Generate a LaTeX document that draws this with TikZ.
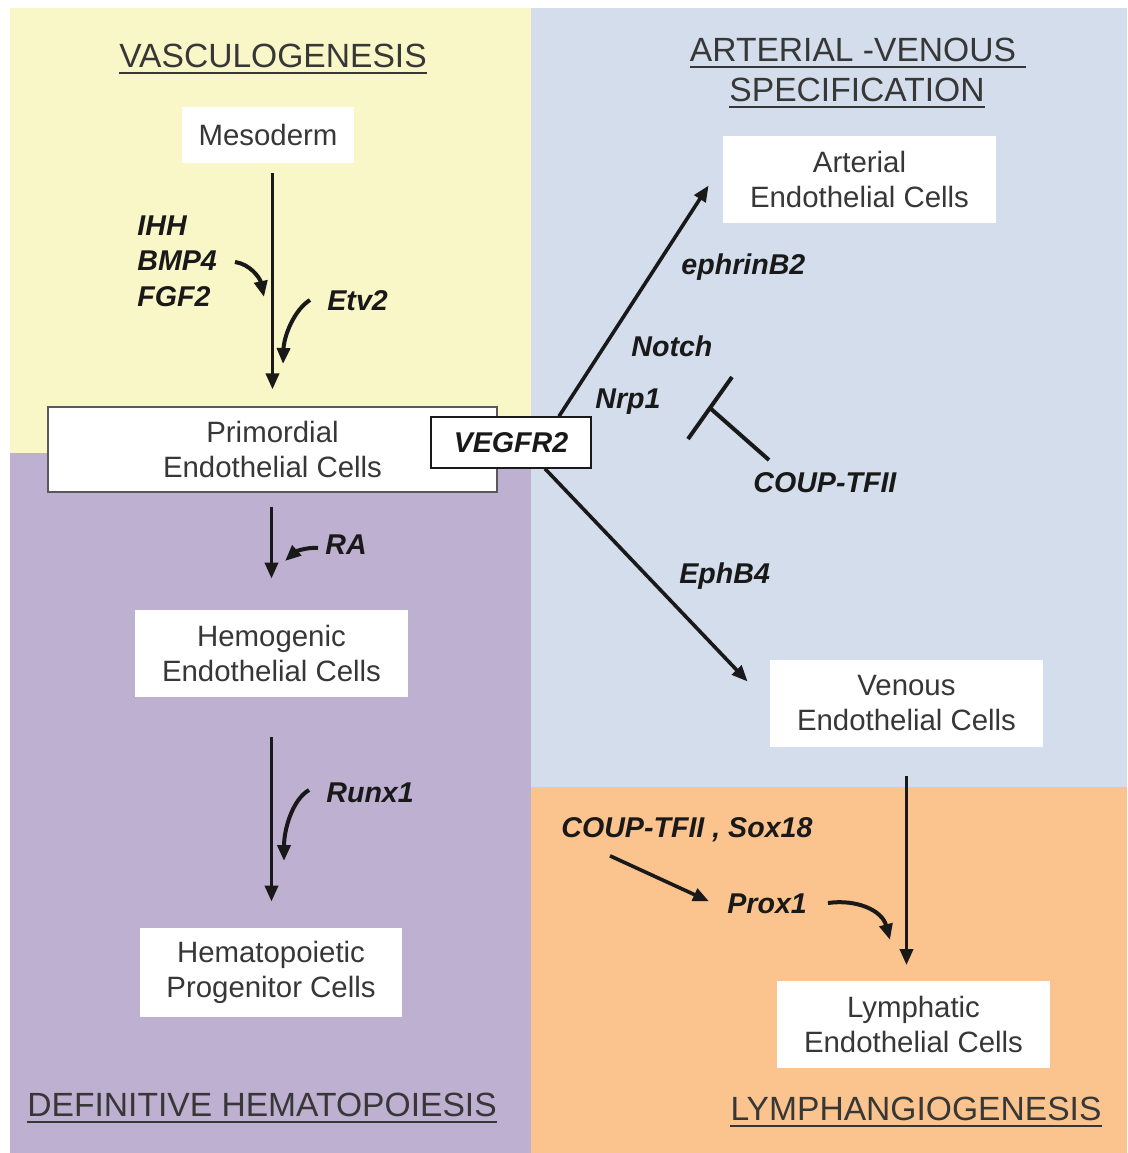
\documentclass[tikz,border=0pt]{standalone}
\usepackage{fontspec}
\setmainfont{Liberation Sans}
\usepackage{xcolor}
\usetikzlibrary{arrows.meta}

\definecolor{vascyellow}{RGB}{249,246,200}
\definecolor{avblue}{RGB}{211,221,235}
\definecolor{hemapurple}{RGB}{190,176,208}
\definecolor{lymphorange}{RGB}{251,196,142}
\definecolor{textgrey}{RGB}{55,55,55}
\definecolor{inkblack}{RGB}{25,25,25}

\newcommand{\headfont}{\fontsize{16.8}{20}\selectfont}
\newcommand{\cellfont}{\fontsize{14.7}{17.5}\selectfont}
\newcommand{\genefont}{\fontsize{14.3}{17}\selectfont\bfseries\itshape}

\begin{document}
\begin{tikzpicture}[x=0.5pt,y=-0.5pt,
    cellbox/.style={fill=white,text=textgrey,font=\cellfont,align=center,
      minimum width=136.5pt,minimum height=43.5pt},
    gene/.style={font=\genefont,text=inkblack,anchor=base west},
    heading/.style={font=\headfont,text=textgrey,anchor=base},
    arr/.style={draw=inkblack,line width=1.8pt,-{Triangle[length=8pt,width=6.5pt]}},
    curved/.style={arr,line width=2pt},
    blocker/.style={draw=inkblack,line width=2pt}]
  \tikzstyle{every node}+=[inner sep=0pt]
  \useasboundingbox (0,0) rectangle (1128,1153);
  % panels
  \fill[white] (0,0) rectangle (1128,1153);
  \fill[vascyellow] (10,8) rectangle (531,453);
  \fill[hemapurple] (10,453) rectangle (531,1153);
  \fill[avblue] (531,8) rectangle (1127,787);
  \fill[lymphorange] (531,787) rectangle (1127,1153);

  % headings
  \node[heading] (vasc) at (273,67) {VASCULOGENESIS};
  \node[heading] (av1) at (858,61) {ARTERIAL -VENOUS\kern5pt};
  \node[heading] (av2) at (857,101) {SPECIFICATION};
  \node[heading] (defh) at (262,1116) {DEFINITIVE HEMATOPOIESIS};
  \node[heading] (lymh) at (916,1120) {LYMPHANGIOGENESIS};
  \foreach \h in {vasc,av1,av2,defh,lymh}
    \draw[textgrey,line width=1.4pt] ([yshift=-3pt]\h.base west) -- ([yshift=-3pt]\h.base east);

  % cell boxes
  \node[cellbox,minimum width=86pt,minimum height=28pt] (meso) at (268,135) {Mesoderm};
  \node[cellbox,draw=gray!70!black,line width=0.6pt,minimum width=224.5pt,minimum height=42.5pt]
    (prim) at (272.5,449.5) {Primordial\\Endothelial Cells};
  \node[cellbox,draw=inkblack,line width=0.7pt,minimum width=80pt,minimum height=25.5pt,
    font=\genefont,text=inkblack] (vegf) at (511,442.5) {VEGFR2};
  \node[cellbox] (hemo) at (271.5,653.5) {Hemogenic\\Endothelial Cells};
  \node[cellbox,minimum width=131pt,minimum height=44.5pt] (hema) at (271,972.5) {Hematopoietic\\Progenitor Cells};
  \node[cellbox] (art) at (859.5,179.5) {Arterial\\Endothelial Cells};
  \node[cellbox] (ven) at (906.5,703.5) {Venous\\Endothelial Cells};
  \node[cellbox] (lym) at (913.5,1024) {Lymphatic\\Endothelial Cells};

  % factors
  \node[gene] (ihh) at (137,235) {IHH};
  \node[gene] (bmp) at (137,270) {BMP4};
  \node[gene] (fgf) at (137,306) {FGF2};
  \node[gene] (etv) at (327,310) {Etv2};
  \node[gene] (ra) at (325,554) {RA};
  \node[gene] (runx) at (326,802) {Runx1};
  \node[gene] (ephr) at (681,274) {ephrinB2};
  \node[gene] (notch) at (631,356) {Notch};
  \node[gene] (nrp) at (595,408) {Nrp1};
  \node[gene] (coup) at (753,492) {COUP-TFII};
  \node[gene] (ephb) at (679,583) {EphB4};
  \node[gene] (coupsox) at (561,837) {COUP-TFII , Sox18};
  \node[gene] (prox) at (727,913) {Prox1};

  % lineage arrows
  \draw[arr,shorten <=5pt,shorten >=8.5pt] (meso.south -| prim.north) -- (prim.north);
  \draw[arr,shorten <=7pt,shorten >=15.5pt] (prim.south -| hemo.north) -- (hemo.north);
  \draw[arr,shorten <=20pt,shorten >=13pt] (hemo.south) -- (hemo.south |- hema.north);
  \draw[arr,shorten <=14.5pt,shorten >=7.5pt] (ven.south) -- (ven.south |- lym.north);
  \draw[arr] ([xshift=24pt]vegf.north) -- ([xshift=-7pt,yshift=-3pt]art.west);
  \draw[arr] ([xshift=17pt]vegf.south) -- ([xshift=-11pt,yshift=11pt]ven.west);

  % signals
  \coordinate (bmpS) at (235,262);  \coordinate (bmpE) at (264,297);
  \coordinate (etvS) at (310,300);  \coordinate (etvE) at (283,364);
  \coordinate (raS) at (318,548);   \coordinate (raE) at (285,561);
  \coordinate (runxS) at (309,790); \coordinate (runxE) at (284,861);
  \coordinate (proxS) at (828,903); \coordinate (proxE) at (890,940);
  \draw[curved] (bmpS) .. controls (250,264) and (260,278) .. (bmpE);
  \draw[curved] (etvS) .. controls (294,310) and (284,336) .. (etvE);
  \draw[curved] (raS) .. controls (306,547) and (295,552) .. (raE);
  \draw[curved] (runxS) .. controls (292,800) and (284,830) .. (runxE);
  \draw[curved] (proxS) .. controls (856,899) and (882,910) .. (proxE);
  \draw[arr] ([xshift=24.5pt,yshift=-7pt]coupsox.south west) -- ([xshift=-9pt,yshift=1pt]prox.west);

  % COUP-TFII blocks Notch
  \coordinate (tbar) at (710,408);
  \coordinate (tstem) at (769,460);
  \draw[blocker] (tstem) -- (tbar);
  \draw[blocker] (688,439) -- (732,377);
\end{tikzpicture}
\end{document}
